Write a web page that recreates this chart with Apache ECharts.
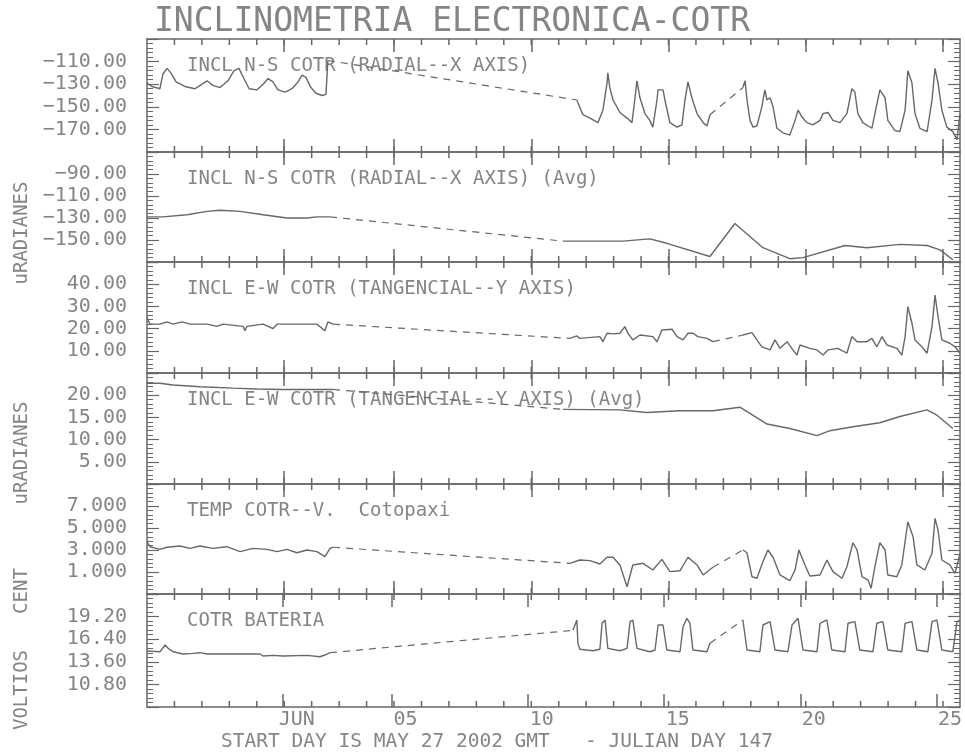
<!DOCTYPE html>
<html><head><meta charset="utf-8">
<script src="https://cdn.jsdelivr.net/npm/echarts@6/dist/echarts.min.js"></script>
<style>html,body{margin:0;background:#fff}#c{width:965px;height:756px}</style>
</head><body><div id="c"></div>
<script>
// ---------- text ----------
const chartTitle = 'INCLINOMETRIA ELECTRONICA-COTR';
const panelTitles = [
  'INCL N-S COTR (RADIAL--X AXIS)',
  'INCL N-S COTR (RADIAL--X AXIS) (Avg)',
  'INCL E-W COTR (TANGENCIAL--Y AXIS)',
  'INCL E-W COTR (TANGENCIAL--Y AXIS) (Avg)',
  'TEMP COTR--V.  Cotopaxi',
  'COTR BATERIA'
];
const unitLabels = ['uRADIANES', 'uRADIANES', 'CENT', 'VOLTIOS'];
const footer = 'START DAY IS MAY 27 2002 GMT   - JULIAN DAY 147';

// ---------- axes ----------
const yMin = [-190, -170, 0, 0, -1, 8];
const yMax = [-90, -70, 50, 25, 9, 22];
const yStep = [20, 20, 10, 5, 2, 2.8];
const yDecimals = [2, 2, 2, 2, 3, 2];
const xMax = 29.62;                       // days since May 27 00:00 GMT
const dayMinor = [1,2,3,4,5,6,7,8,9,10,11,12,13,14,15,16,17,18,19,20,21,22,23,24,25,26,27,28,29];
const dayMajor = [5, 9, 14, 19, 24, 29];  // JUN 1, 05, 10, 15, 20, 25
const dayLabels = ['JUN', '05', '10', '15', '20', '25'];

// ---------- data: [day, value] ----------
const p1A = [[0,-129],[0.18,-132],[0.47,-134],[0.58,-121],[0.73,-116],[0.87,-120],[1.06,-128],[1.38,-132],[1.75,-134],[2.0,-130],[2.19,-127],[2.4,-131],[2.66,-133],[2.95,-127],[3.17,-118],[3.35,-116],[3.53,-125],[3.72,-134],[4.01,-135],[4.23,-130],[4.41,-125],[4.59,-128],[4.77,-135],[5.03,-137],[5.28,-134],[5.5,-128],[5.65,-122],[5.79,-124],[5.97,-133],[6.16,-138],[6.38,-140],[6.52,-139],[6.59,-109]];
const p1B = [[15.66,-144],[15.88,-157],[16.14,-160],[16.43,-164],[16.61,-153],[16.76,-129],[16.79,-120],[16.86,-133],[16.98,-144],[17.23,-155],[17.49,-160],[17.67,-164],[17.78,-142],[17.85,-127],[17.96,-142],[18.14,-156],[18.32,-162],[18.43,-168],[18.58,-144],[18.62,-135],[18.80,-135],[18.87,-144],[19.05,-164],[19.31,-168],[19.49,-166],[19.60,-144],[19.71,-128],[19.85,-142],[20.04,-156],[20.26,-164],[20.40,-167],[20.51,-157]];
const p1C = [[21.71,-133],[21.79,-127],[21.86,-144],[21.97,-162],[22.08,-168],[22.22,-167],[22.40,-150],[22.51,-135],[22.59,-144],[22.70,-142],[22.81,-150],[22.95,-169],[23.17,-173],[23.42,-175],[23.61,-162],[23.72,-153],[23.86,-159],[24.04,-164],[24.26,-166],[24.52,-162],[24.63,-156],[24.81,-155],[24.99,-162],[25.25,-164],[25.50,-156],[25.68,-134],[25.79,-137],[25.90,-156],[26.08,-164],[26.41,-169],[26.52,-156],[26.70,-135],[26.89,-142],[26.99,-162],[27.25,-171],[27.43,-172],[27.62,-153],[27.72,-118],[27.87,-129],[27.98,-156],[28.16,-169],[28.42,-172],[28.60,-144],[28.71,-116],[28.82,-129],[28.96,-153],[29.14,-168],[29.36,-172],[29.51,-179],[29.62,-156]];

const p2A = [[0,-129],[0.58,-129],[1.46,-127],[2.19,-124],[2.66,-123],[3.39,-124],[4.23,-127],[5.10,-130],[5.83,-130],[6.19,-129],[6.67,-129]];
const p2C = [[15.15,-151],[16.14,-151],[17.34,-151],[18.32,-149],[18.94,-153],[20.51,-165],[21.42,-135],[22.44,-157],[23.42,-167],[23.90,-166],[25.43,-155],[26.23,-157],[27.43,-154],[28.42,-155],[28.89,-159],[29.36,-168]];

const p3A = [[0,25],[0.11,22],[0.47,22],[0.73,23],[0.95,22],[1.28,23],[1.57,22],[2.19,22],[2.55,21],[2.77,22],[3.50,21],[3.57,19],[3.64,21],[4.23,22],[4.59,20],[4.74,22],[5.57,22],[6.19,22],[6.48,19],[6.59,23],[6.78,22]];
const p3B = [[15.41,15.6],[15.66,16.7],[15.77,15.6],[16.50,16.4],[16.61,14.1],[16.76,17.9],[16.98,17.6],[17.23,17.9],[17.41,20.9],[17.52,17.9],[17.70,14.9],[17.96,17.1],[18.43,16.4],[18.58,14.1],[18.76,19.4],[19.13,19.7],[19.31,16.4],[19.53,14.9],[19.71,17.9],[19.89,17.9],[20.07,16.4],[20.40,15.6],[20.62,14.1]];
const p3C = [[21.71,17.1],[22.04,18.2],[22.22,14.9],[22.40,11.8],[22.70,10.4],[22.88,14.9],[23.06,11.1],[23.32,14.1],[23.53,10.4],[23.68,8.1],[23.79,12.6],[24.15,11.1],[24.41,10.4],[24.63,8.1],[24.81,10.4],[25.17,11.1],[25.50,8.9],[25.68,16.4],[25.87,14.1],[26.23,14.1],[26.41,15.6],[26.59,11.8],[26.78,16.4],[26.96,12.6],[27.32,11.1],[27.50,8.1],[27.62,16.4],[27.72,29.9],[27.87,22.4],[27.98,14.9],[28.23,11.8],[28.42,8.9],[28.60,20.9],[28.71,35.1],[28.82,25.4],[28.96,14.9],[29.25,13.4],[29.44,11.8],[29.62,8.9]];

const p4A = [[0,22.7],[0.47,22.7],[0.95,22.3],[1.93,21.9],[3.13,21.6],[4.01,21.4],[4.95,21.3],[6.78,21.3]];
const p4C = [[15.15,16.8],[17.23,16.7],[18.21,16.1],[19.42,16.5],[20.62,16.5],[21.60,17.3],[22.59,13.5],[23.42,12.5],[24.41,10.9],[24.88,12.0],[25.72,12.9],[26.70,13.8],[27.43,15.2],[28.42,16.7],[28.78,15.5],[29.36,12.5]];

const p5A = [[0,3.75],[0.11,3.30],[0.47,3.06],[0.73,3.25],[1.20,3.36],[1.57,3.15],[1.93,3.36],[2.40,3.15],[2.91,3.30],[3.39,2.85],[3.86,3.15],[4.37,3.06],[4.74,2.85],[5.10,3.06],[5.46,2.75],[5.83,3.0],[6.19,2.85],[6.48,2.39],[6.67,3.15],[6.78,3.25]];
const p5B = [[15.41,1.79],[15.77,2.09],[16.14,2.03],[16.50,1.73],[16.76,2.34],[16.98,2.34],[17.23,1.64],[17.49,-0.34],[17.70,1.64],[18.07,1.79],[18.43,1.18],[18.76,2.15],[19.05,1.03],[19.42,1.12],[19.71,2.34],[20.04,1.64],[20.26,0.73],[20.62,1.43]];
const p5C = [[21.71,3.0],[21.86,2.75],[22.04,0.57],[22.22,0.43],[22.44,1.94],[22.62,3.0],[22.81,2.34],[23.06,0.73],[23.42,0.21],[23.61,1.18],[23.75,3.0],[23.97,1.64],[24.15,0.64],[24.52,0.73],[24.77,2.09],[24.99,1.03],[25.32,0.43],[25.50,1.48],[25.72,3.66],[25.87,3.0],[26.05,0.57],[26.27,0.27],[26.38,-0.48],[26.52,1.48],[26.70,3.66],[26.89,3.0],[26.99,0.73],[27.32,0.57],[27.50,1.64],[27.72,5.57],[27.91,4.21],[28.05,1.64],[28.34,1.18],[28.60,2.70],[28.71,5.88],[28.82,4.82],[28.96,2.09],[29.25,1.64],[29.44,0.88],[29.62,2.70]];

const p6A = [[0,14.94],[0.47,14.85],[0.66,15.68],[0.77,15.27],[0.95,14.85],[1.31,14.57],[1.68,14.65],[1.93,14.73],[2.19,14.57],[3.13,14.57],[4.12,14.57],[4.23,14.32],[4.59,14.40],[4.95,14.32],[5.83,14.40],[6.30,14.23],[6.48,14.44],[6.67,14.73]];
const p6B = [[15.52,17.5],[15.66,18.78],[15.70,15.89],[15.77,15.15],[16.25,14.97],[16.50,15.15],[16.58,18.37],[16.69,18.78],[16.79,15.27],[17.23,14.97],[17.49,15.27],[17.60,18.57],[17.70,18.78],[17.85,15.27],[18.32,14.85],[18.51,15.06],[18.62,18.16],[18.80,18.16],[18.94,15.06],[19.42,14.85],[19.53,17.95],[19.67,18.99],[19.78,18.37],[19.89,15.06],[20.40,14.85],[20.51,15.89]];
const p6C = [[21.71,18.78],[21.86,15.06],[22.33,14.85],[22.44,18.16],[22.70,18.57],[22.88,15.06],[23.35,14.85],[23.50,18.16],[23.72,18.99],[23.90,15.06],[24.41,14.85],[24.52,18.37],[24.77,18.78],[24.95,15.06],[25.43,14.85],[25.54,18.37],[25.79,18.57],[25.97,15.06],[26.45,14.85],[26.59,18.37],[26.81,18.57],[26.99,15.06],[27.50,14.85],[27.62,18.37],[27.87,18.57],[28.05,15.06],[28.45,14.85],[28.60,18.57],[28.78,18.78],[28.96,15.06],[29.36,14.85],[29.51,18.57],[29.62,18.78]];

const panels = [[p1A,p1B,p1C],[p2A,p2C],[p3A,p3B,p3C],[p4A,p4C],[p5A,p5B,p5C],[p6A,p6B,p6C]];

// ---------- layout / style ----------
const gridTop = [39, 152, 262, 373, 484, 594];
const gridH = [113, 110, 111, 111, 110, 113];
const LEFT = 147, RIGHT = 5;
const LINE = '#686868', TEXT = '#858585';
const FONT = '"DejaVu Sans Mono"';
const fmt = (v, d) => (v < 0 ? '\u2212' : '') + Math.abs(v).toFixed(d);

const grid = [], xAxis = [], yAxis = [], series = [], graphic = [];

for (let i = 0; i < 6; i++) {
  const g = grid.length;
  grid.push({left: LEFT, right: RIGHT, top: gridTop[i], height: gridH[i]});
  const base = xAxis.length;
  ['bottom', 'top'].forEach(pos => {
    xAxis.push({gridIndex: g, type: 'value', position: pos, min: 0, max: xMax,
      axisLine: {show: true, onZero: false, lineStyle: {color: LINE, width: 1.5}},
      axisTick: {show: false}, axisLabel: {show: false}, splitLine: {show: false}});
  });
  const yBase = yAxis.length;
  ['left', 'right'].forEach(pos => {
    yAxis.push({gridIndex: g, type: 'value', position: pos, min: yMin[i], max: yMax[i], interval: yStep[i],
      axisLine: {show: true, onZero: false, lineStyle: {color: LINE, width: 1.5}},
      axisTick: {show: true, inside: true, length: 12, lineStyle: {color: LINE, width: 1.2}},
      minorTick: {show: true, splitNumber: 5, length: 6, lineStyle: {color: LINE, width: 1}},
      splitLine: {show: false}, minorSplitLine: {show: false},
      axisLabel: pos === 'left' ? {show: true, margin: 20, color: TEXT, fontFamily: 'DejaVu Sans Mono', fontSize: 20,
        padding: [0, 0, 12, 0],
        formatter: v => (Math.abs(v - yMin[i]) < 1e-6 || Math.abs(v - yMax[i]) < 1e-6) ? '' : fmt(v, yDecimals[i])}
        : {show: false}});
  });

  // overlay grid carrying the calendar (long) ticks and the day labels
  const g2 = grid.length;
  grid.push({left: LEFT, right: RIGHT, top: gridTop[i], height: gridH[i]});
  ['bottom', 'top'].forEach(pos => {
    const lab = (i === 5 && pos === 'bottom');
    xAxis.push({gridIndex: g2, type: 'value', position: pos, min: 0, max: xMax,
      axisLine: {show: false, onZero: false},
      axisTick: {show: true, inside: true, length: 13, customValues: dayMajor, lineStyle: {color: LINE, width: 1.5}},
      axisLabel: lab ? {show: true, margin: 3, color: TEXT, fontFamily: 'DejaVu Sans Mono', fontSize: 20,
        customValues: dayMajor.map(d => d + 0.5),
        formatter: v => dayLabels[dayMajor.indexOf(Math.round(v - 0.5))] || ''} : {show: false},
      splitLine: {show: false}});
  });
  yAxis.push({gridIndex: g2, type: 'value', min: yMin[i], max: yMax[i], show: false});

  const segs = panels[i];
  segs.forEach(seg => series.push({type: 'line', xAxisIndex: base, yAxisIndex: yBase, data: seg,
    showSymbol: false, symbol: 'none', silent: true, animation: false,
    lineStyle: {color: LINE, width: 1.4}}));
  for (let s = 0; s < segs.length - 1; s++) {
    series.push({type: 'line', xAxisIndex: base, yAxisIndex: yBase,
      data: [segs[s][segs[s].length - 1], segs[s + 1][0]],
      showSymbol: false, symbol: 'none', silent: true, animation: false,
      lineStyle: {color: LINE, width: 1.2, type: [7, 6]}});
  }
  graphic.push({type: 'text', x: 187, y: gridTop[i] + 27,
    style: {text: panelTitles[i], fill: TEXT, font: '19px ' + FONT, textVerticalAlign: 'middle'}});
}

graphic.push({type: 'text', x: 452, y: 22,
  style: {text: chartTitle, fill: TEXT, font: '33px ' + FONT, textAlign: 'center', textVerticalAlign: 'middle'}});
graphic.push({type: 'text', x: 497, y: 742,
  style: {text: footer, fill: TEXT, font: '19.5px ' + FONT, textAlign: 'center', textVerticalAlign: 'middle'}});
const unitY = [233, 453, 591, 690];
unitLabels.forEach((t, k) => graphic.push({type: 'text', x: 22, y: unitY[k], rotation: Math.PI / 2,
  style: {text: t, fill: TEXT, font: '19px ' + FONT, textAlign: 'center', textVerticalAlign: 'middle'}}));

const chart = echarts.init(document.getElementById('c'), null, {renderer: 'canvas'});
chart.setOption({animation: false, backgroundColor: '#fff', grid, xAxis, yAxis, series, graphic});

// daily ticks placed through each panel's own scale
const tickLines = [];
for (let i = 0; i < 6; i++) {
  const finder = {xAxisIndex: i * 4, yAxisIndex: i * 3};
  dayMinor.forEach(d => {
    const top = chart.convertToPixel(finder, [d, yMax[i]]);
    const bot = chart.convertToPixel(finder, [d, yMin[i]]);
    if (!top || !bot) return;
    tickLines.push({type: 'line', silent: true, z: 50,
      shape: {x1: top[0], y1: top[1], x2: top[0], y2: top[1] + 6},
      style: {stroke: LINE, lineWidth: 1.5}});
    tickLines.push({type: 'line', silent: true, z: 50,
      shape: {x1: bot[0], y1: bot[1], x2: bot[0], y2: bot[1] - 6},
      style: {stroke: LINE, lineWidth: 1.5}});
  });
}
chart.setOption({graphic: graphic.concat(tickLines)});
</script></body></html>
